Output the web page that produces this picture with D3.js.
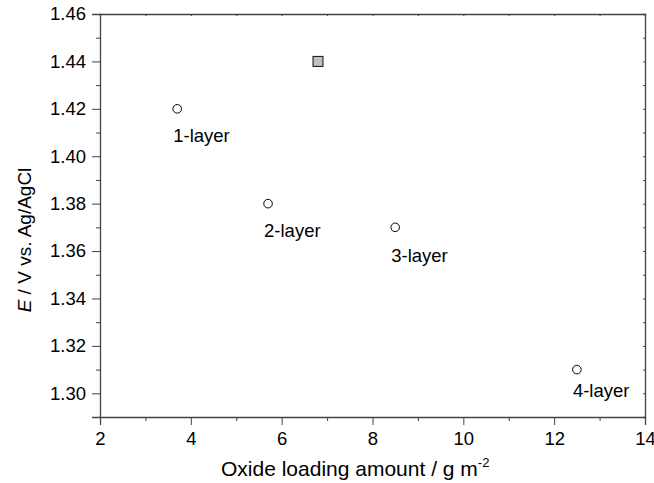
<!DOCTYPE html>
<html>
<head>
<meta charset="utf-8">
<script src="https://cdn.jsdelivr.net/npm/d3@7"></script>
<style>
  body { margin: 0; background: #fff; }
  svg text { font-family: "Liberation Sans", Arial, sans-serif; fill: #000; }
</style>
</head>
<body>
<div id="chart"></div>
<script>
// layer samples (open circles)
const loading = [3.7, 5.7, 8.5, 12.5];
const potential = [1.42, 1.38, 1.37, 1.31];
const layerLabels = ["1-layer", "2-layer", "3-layer", "4-layer"];
const labelDy = [33, 33, 35, 27];
// reference sample (grey square)
const refLoading = [6.8];
const refPotential = [1.44];

const xTicks = [2, 4, 6, 8, 10, 12, 14];
const yTicks = [1.30, 1.32, 1.34, 1.36, 1.38, 1.40, 1.42, 1.44, 1.46];

const width = 654;
const height = 483;
const margin = { top: 14, right: 9, bottom: 66, left: 100 };

const svg = d3.select("#chart")
              .append("svg")
              .attr("width", width)
              .attr("height", height);

const x = d3.scaleLinear()
            .domain([2, 14])
            .range([margin.left, width - margin.right]);

const y = d3.scaleLinear()
            .domain([1.29, 1.46])
            .range([height - margin.bottom, margin.top]);

const axisColor = "#444";

// bottom axis, major + minor
const xAxis = svg.append("g")
                 .attr("transform", "translate(0," + (height - margin.bottom) + ")")
                 .call(d3.axisBottom(x).tickValues(xTicks).tickSize(8).tickPadding(7).tickFormat(d3.format("d")));
svg.append("g")
   .attr("transform", "translate(0," + (height - margin.bottom) + ")")
   .call(d3.axisBottom(x).tickValues(d3.range(3, 14, 2)).tickSize(4).tickFormat(""))
   .select(".domain").remove();

// left axis, major + minor
const yAxis = svg.append("g")
                 .attr("transform", "translate(" + margin.left + ",0)")
                 .call(d3.axisLeft(y).tickValues(yTicks).tickSize(8).tickPadding(6).tickFormat(d3.format(".2f")));
svg.append("g")
   .attr("transform", "translate(" + margin.left + ",0)")
   .call(d3.axisLeft(y).tickValues(d3.range(1.29, 1.46, 0.02)).tickSize(4).tickFormat(""))
   .select(".domain").remove();

// top and right frame with tiny inward ticks
svg.append("g")
   .attr("transform", "translate(0," + margin.top + ")")
   .call(d3.axisTop(x).tickValues(d3.range(2, 15, 1)).tickSize(-2).tickFormat(""));
svg.append("g")
   .attr("transform", "translate(" + (width - margin.right) + ",0)")
   .call(d3.axisRight(y).tickValues(d3.range(1.29, 1.461, 0.01)).tickSize(-2).tickFormat(""));

svg.selectAll(".domain").attr("stroke", axisColor).attr("stroke-width", 1.3);
svg.selectAll(".tick line").attr("stroke", axisColor).attr("stroke-width", 1);
svg.selectAll(".tick text").style("font-size", "18.5px").attr("fill", "#000");

// axis titles
const xTitle = svg.append("text")
                  .attr("x", 221)
                  .attr("y", 476)
                  .style("font-size", "21px");
xTitle.append("tspan").text("Oxide loading amount / g m");
xTitle.append("tspan").attr("dy", -9).style("font-size", "13px").text("-2");

const yTitle = svg.append("text")
                  .attr("transform", "translate(31,240) rotate(-90)")
                  .attr("text-anchor", "middle")
                  .style("font-size", "19px");
yTitle.append("tspan").style("font-style", "italic").text("E");
yTitle.append("tspan").text(" / V vs. Ag/AgCl");

// points
svg.selectAll("circle.layer")
   .data(loading)
   .join("circle")
   .attr("class", "layer")
   .attr("cx", function(d) { return x(d); })
   .attr("cy", function(d, i) { return y(potential[i]); })
   .attr("r", 4.3)
   .attr("fill", "#fff")
   .attr("stroke", "#000")
   .attr("stroke-width", 1);

svg.selectAll("text.layer")
   .data(layerLabels)
   .join("text")
   .attr("class", "layer")
   .attr("x", function(d, i) { return x(loading[i]) - 4; })
   .attr("y", function(d, i) { return y(potential[i]) + labelDy[i]; })
   .style("font-size", "18.5px")
   .text(function(d) { return d; });

svg.selectAll("rect.ref")
   .data(refLoading)
   .join("rect")
   .attr("class", "ref")
   .attr("x", function(d) { return x(d) - 5; })
   .attr("y", function(d, i) { return y(refPotential[i]) - 5; })
   .attr("width", 10)
   .attr("height", 10)
   .attr("fill", "#c0c0c0")
   .attr("stroke", "#111")
   .attr("stroke-width", 1);
</script>
</body>
</html>
